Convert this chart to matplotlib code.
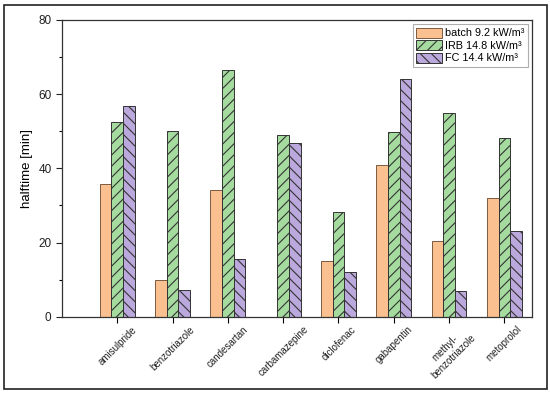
import numpy as np
import matplotlib
matplotlib.use('Agg')
import matplotlib.pyplot as plt
from matplotlib.patches import Rectangle

# data
compounds = ['amisulpride', 'benzotriazole', 'candesartan', 'carbamazepine',
             'diclofenac', 'gabapentin', 'methyl-\nbenzotriazole', 'metoprolol']
batch = [35.7, 9.9, 34.2, 0.0, 15.0, 40.9, 20.3, 31.9]
irb = [52.5, 50.2, 66.4, 49.0, 28.3, 49.9, 55.0, 48.2]
fc = [56.7, 7.1, 15.5, 46.8, 12.0, 64.0, 6.8, 23.1]
labels = ['batch 9.2 kW/m³', 'IRB 14.8 kW/m³', 'FC 14.4 kW/m³']

plt.rcParams['font.family'] = ['Liberation Sans', 'DejaVu Sans']
plt.rcParams['hatch.color'] = '#3a3a3a'
plt.rcParams['hatch.linewidth'] = 0.8

fig = plt.figure(figsize=(5.5, 3.93), dpi=100)
ax = fig.add_axes([62/550, 1 - 316.7/393, (532-62)/550, (316.7-20)/393])

x = np.arange(len(compounds))
w = 0.21
ax.bar(x - w, batch, w, color='#fbc08f', edgecolor='#7a5a40', linewidth=0.7, label=labels[0])
ax.bar(x, irb, w, color='#a6dba0', edgecolor='#333333', linewidth=0.7, hatch='///', label=labels[1])
ax.bar(x + w, fc, w, color='#bba8dc', edgecolor='#333333', linewidth=0.7, hatch='\\\\\\', label=labels[2])

ax.set_xlim(-1, 7.5)
ax.set_ylim(0, 80)
ax.set_yticks([0, 20, 40, 60, 80])
ax.set_yticks([10, 30, 50, 70], minor=True)
ax.set_xticks(x)
ax.set_xticklabels(compounds, rotation=45, ha='center', fontsize=7, color='#222222')
ax.tick_params(axis='y', labelsize=8.5, colors='#222222', length=4, width=0.8)
ax.tick_params(axis='y', which='minor', length=2.5, width=0.8)
ax.tick_params(axis='x', length=4, width=0.8, pad=1.5)
ax.set_ylabel('halftime [min]', fontsize=9.5, labelpad=4)
for s in ax.spines.values():
    s.set_linewidth(0.9)
    s.set_color('#333333')

leg = ax.legend(loc='upper right', fontsize=7.8, frameon=True, fancybox=False,
                edgecolor='#999999', borderpad=0.3, handlelength=2.4, handleheight=1.1,
                handletextpad=0.3, labelspacing=0.15, borderaxespad=0.4)
leg.get_frame().set_linewidth(0.8)

# border around the whole figure
fig.patches.append(Rectangle((4/550, 4/393), 543/550, 384/393, transform=fig.transFigure,
                             fill=False, edgecolor='#222222', linewidth=1.2))

fig.savefig('out.png', dpi=100)
